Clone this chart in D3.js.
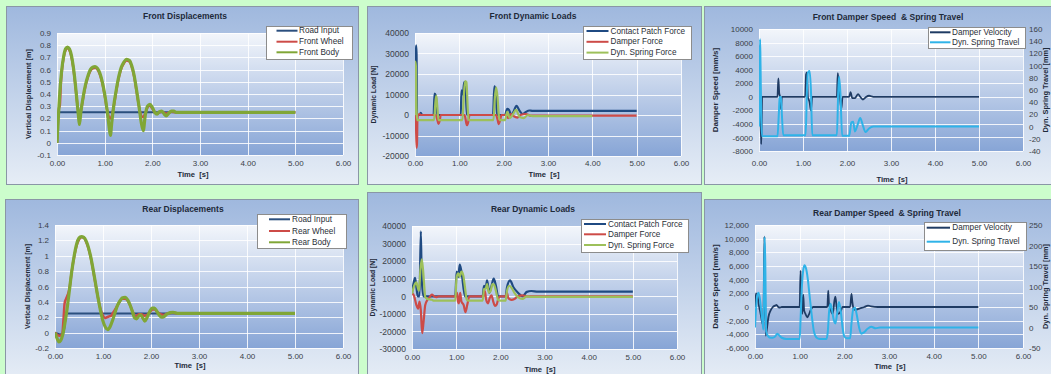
<!DOCTYPE html>
<html>
<head>
<meta charset="utf-8">
<script src="https://cdn.jsdelivr.net/npm/d3@7"></script>
<style>
html, body { margin: 0; padding: 0; background: #ccfdcc; overflow: hidden; }
svg { display: block; }
text { font-family: "Liberation Sans", Arial, sans-serif; }
</style>
</head>
<body>
<svg id="chart" width="1051" height="374"></svg>
<script>
// ---- tick labels ----
const timeTicks = [0, 1, 2, 3, 4, 5, 6];
const frontDispTicks = [-0.1, 0, 0.1, 0.2, 0.3, 0.4, 0.5, 0.6, 0.7, 0.8, 0.9];
const frontLoadTicks = [-20000, -10000, 0, 10000, 20000, 30000, 40000];
const frontSpeedTicks = [-8000, -6000, -4000, -2000, 0, 2000, 4000, 6000, 8000, 10000];
const frontTravelTicks = [-40, -20, 0, 20, 40, 60, 80, 100, 120, 140, 160];
const rearDispTicks = [-0.2, 0, 0.2, 0.4, 0.6, 0.8, 1, 1.2, 1.4];
const rearLoadTicks = [-30000, -20000, -10000, 0, 10000, 20000, 30000, 40000];
const rearSpeedTicks = [-6000, -4000, -2000, 0, 2000, 4000, 6000, 8000, 10000, 12000];
const rearTravelTicks = [-50, 0, 50, 100, 150, 200, 250];

// ---- front displacements [t, m] ----
const frontRoadInput = [[0, 0], [0.03, 0.25], [5.0, 0.25]];
const frontWheel = [[0, 0], [0.02, 0.17], [0.04, 0.28], [0.06, 0.31], [0.08, 0.48], [0.1, 0.58], [0.14, 0.7],
  [0.18, 0.76], [0.22, 0.775], [0.26, 0.76], [0.3, 0.71], [0.34, 0.62], [0.38, 0.49], [0.42, 0.34], [0.45, 0.25],
  [0.47, 0.22], [0.5, 0.26], [0.55, 0.37], [0.6, 0.47], [0.65, 0.54], [0.7, 0.59], [0.75, 0.61], [0.8, 0.615],
  [0.85, 0.6], [0.9, 0.56], [0.95, 0.49], [1.0, 0.39], [1.05, 0.27], [1.09, 0.21], [1.12, 0.2], [1.15, 0.22],
  [1.2, 0.32], [1.25, 0.44], [1.3, 0.54], [1.35, 0.61], [1.4, 0.65], [1.46, 0.675], [1.52, 0.665], [1.57, 0.62],
  [1.62, 0.54], [1.67, 0.42], [1.72, 0.3], [1.77, 0.22], [1.81, 0.21], [1.85, 0.24], [1.9, 0.29], [1.95, 0.305],
  [2.0, 0.28], [2.05, 0.25], [2.1, 0.24], [2.15, 0.25], [2.2, 0.255], [2.25, 0.245], [2.3, 0.24], [2.4, 0.255],
  [2.5, 0.25], [5.0, 0.25]];
const frontBody = [[0, 0], [0.03, 0.22], [0.06, 0.42], [0.1, 0.6], [0.14, 0.71], [0.18, 0.77], [0.22, 0.785],
  [0.26, 0.77], [0.3, 0.72], [0.34, 0.63], [0.38, 0.5], [0.42, 0.34], [0.45, 0.22], [0.47, 0.15], [0.5, 0.25],
  [0.55, 0.38], [0.6, 0.48], [0.65, 0.55], [0.7, 0.6], [0.75, 0.62], [0.8, 0.625], [0.85, 0.61], [0.9, 0.57],
  [0.95, 0.5], [1.0, 0.4], [1.05, 0.27], [1.09, 0.14], [1.12, 0.06], [1.15, 0.17], [1.2, 0.33], [1.25, 0.45],
  [1.3, 0.55], [1.35, 0.62], [1.4, 0.66], [1.46, 0.685], [1.52, 0.675], [1.57, 0.63], [1.62, 0.55], [1.67, 0.43],
  [1.72, 0.3], [1.77, 0.16], [1.81, 0.1], [1.85, 0.22], [1.9, 0.3], [1.95, 0.315], [2.0, 0.29], [2.05, 0.25],
  [2.1, 0.235], [2.15, 0.255], [2.2, 0.26], [2.25, 0.235], [2.29, 0.22], [2.34, 0.24], [2.4, 0.26], [2.45, 0.26],
  [2.5, 0.25], [2.6, 0.25], [5.0, 0.25]];

// ---- front dynamic loads [t, N] ----
const frontContactForce = [[0, 0], [0.01, 27000], [0.025, 34000], [0.035, 30000], [0.045, 0], [0.1, 0],
  [0.13, 1000], [0.16, 0], [0.42, 0], [0.44, 10500], [0.47, 9500], [0.5, 0], [1.03, 0], [1.05, 12000],
  [1.08, 10000], [1.11, 16000], [1.14, 14000], [1.17, 0], [1.76, 0], [1.79, 14000], [1.82, 12000], [1.85, 0],
  [2.03, 0], [2.08, 3000], [2.12, 2500], [2.17, 0], [2.22, 1500], [2.29, 4500], [2.36, 2000], [2.43, 500],
  [2.5, 1500], [2.58, 2200], [2.65, 2000], [5.0, 2000]];
const frontDamperForce = [[0, 0], [0.02, -3000], [0.035, -16000], [0.045, -14000], [0.055, -2000], [0.07, 0],
  [0.1, 500], [0.13, 0], [0.47, 0], [0.5, -2000], [0.53, -4300], [0.56, -2500], [0.58, 0], [1.12, 0],
  [1.14, -2000], [1.17, -5000], [1.2, -3500], [1.23, 0], [1.83, 0], [1.86, -2000], [1.89, -4500], [1.92, -2500],
  [1.95, 0], [2.05, 0], [2.1, -1500], [2.16, 500], [2.22, -500], [2.31, -1300], [2.38, 0], [2.5, 500],
  [2.6, -300], [5.0, -300]];
const frontSpringForce = [[0, 0], [0.005, 26000], [0.02, 24000], [0.035, 3000], [0.05, -2500], [0.43, -2500],
  [0.46, 6000], [0.48, 9500], [0.5, 5000], [0.53, -2500], [1.07, -2500], [1.1, 9000], [1.13, 16500],
  [1.16, 16000], [1.19, 3000], [1.21, -2500], [1.77, -2500], [1.8, 8000], [1.83, 13500], [1.86, 9000],
  [1.89, 0], [1.91, -2500], [2.03, -2500], [2.08, 1500], [2.14, -1500], [2.2, 0], [2.28, 2500], [2.36, -1000],
  [2.45, -1500], [2.55, 0], [2.65, -500], [4.0, -500]];

// ---- front damper speed [t, mm/s] and spring travel [t, mm] ----
const frontDamperVelocity = [[0, 0], [0.01, 7500], [0.02, 3000], [0.03, -2000], [0.05, -7000], [0.06, -4000],
  [0.07, 0], [0.42, 0], [0.44, 2700], [0.46, 500], [0.48, 0], [0.5, -1800], [0.52, 0], [1.05, 0], [1.07, 3300],
  [1.09, 3600], [1.11, 0], [1.15, -800], [1.18, -2000], [1.21, 0], [1.77, 0], [1.79, 3500], [1.81, 2000],
  [1.84, 0], [1.87, -1800], [1.9, 0], [2.05, 0], [2.08, 700], [2.12, -200], [2.18, -200], [2.25, 400],
  [2.3, 0], [2.36, -400], [2.42, -100], [2.5, 150], [2.6, 0], [5.0, 0]];
const frontSpringTravel = [[0, 0], [0.015, 100], [0.025, 143], [0.035, 100], [0.05, 20], [0.07, -16],
  [0.42, -16], [0.45, 20], [0.47, 48], [0.5, 49], [0.52, 20], [0.55, -14], [1.06, -14], [1.09, 60],
  [1.11, 88], [1.15, 91], [1.18, 60], [1.21, -14], [1.77, -14], [1.8, 55], [1.82, 82], [1.85, 55],
  [1.89, -15], [2.05, -15], [2.1, 7], [2.14, 8], [2.18, -8], [2.25, 5], [2.3, 14], [2.36, 2], [2.42, -9],
  [2.5, -3], [2.6, 0], [5.0, 0]];

// ---- rear displacements [t, m] ----
const rearRoadInput = [[0, 0], [0.1, -0.02], [0.17, -0.02], [0.24, 0.25], [5.0, 0.25]];
const rearWheel = [[0, 0], [0.05, -0.03], [0.1, -0.04], [0.15, -0.02], [0.18, 0.2], [0.2, 0.38], [0.23, 0.44],
  [0.27, 0.5], [0.3, 0.57], [0.35, 0.8], [0.4, 0.99], [0.45, 1.13], [0.5, 1.21], [0.55, 1.24], [0.6, 1.235],
  [0.65, 1.18], [0.7, 1.09], [0.75, 0.96], [0.8, 0.79], [0.85, 0.61], [0.9, 0.44], [0.95, 0.3], [1.0, 0.22],
  [1.04, 0.19], [1.08, 0.2], [1.12, 0.21], [1.17, 0.22], [1.22, 0.27], [1.3, 0.35], [1.35, 0.41], [1.4, 0.44],
  [1.46, 0.44], [1.52, 0.41], [1.57, 0.35], [1.62, 0.27], [1.66, 0.22], [1.7, 0.22], [1.75, 0.24], [1.8, 0.24],
  [1.86, 0.22], [1.92, 0.23], [1.98, 0.27], [2.03, 0.3], [2.08, 0.3], [2.13, 0.27], [2.2, 0.24], [2.27, 0.23],
  [2.35, 0.25], [2.45, 0.26], [2.55, 0.25], [5.0, 0.25]];
const rearBody = [[0, 0], [0.04, -0.07], [0.08, -0.12], [0.12, -0.1], [0.16, -0.03], [0.2, 0.1], [0.25, 0.3],
  [0.3, 0.55], [0.35, 0.8], [0.4, 1.0], [0.45, 1.15], [0.5, 1.23], [0.55, 1.25], [0.6, 1.24], [0.65, 1.19],
  [0.7, 1.1], [0.75, 0.97], [0.8, 0.8], [0.85, 0.62], [0.9, 0.44], [0.95, 0.28], [1.0, 0.15], [1.05, 0.07],
  [1.1, 0.04], [1.15, 0.08], [1.2, 0.16], [1.25, 0.26], [1.3, 0.35], [1.35, 0.41], [1.4, 0.45], [1.46, 0.46],
  [1.52, 0.42], [1.57, 0.35], [1.62, 0.26], [1.66, 0.19], [1.7, 0.18], [1.74, 0.21], [1.78, 0.23], [1.82, 0.2],
  [1.87, 0.15], [1.92, 0.2], [1.97, 0.27], [2.02, 0.32], [2.07, 0.32], [2.12, 0.28], [2.17, 0.23], [2.22, 0.2],
  [2.27, 0.21], [2.33, 0.24], [2.4, 0.26], [2.46, 0.265], [2.55, 0.25], [5.0, 0.25]];

// ---- rear dynamic loads [t, N] ----
const rearContactForce = [[0, 2000], [0.04, 8000], [0.07, 10500], [0.1, 5000], [0.13, 0], [0.17, 0],
  [0.2, 37000], [0.22, 10000], [0.26, 0], [0.98, 0], [1.01, 14000], [1.05, 11000], [1.08, 18000],
  [1.12, 14000], [1.2, 0], [1.6, 0], [1.63, 6000], [1.67, 5000], [1.7, 9000], [1.75, 2000], [1.8, 6000],
  [1.85, 10000], [1.9, 6000], [1.95, 0], [2.12, 0], [2.15, 5000], [2.22, 9000], [2.3, 5000], [2.4, 2000],
  [2.5, 0], [2.6, 2500], [2.7, 3000], [2.85, 2600], [5.0, 2600]];
const rearDamperForce = [[0, 2000], [0.05, 0], [0.1, -5000], [0.14, -7000], [0.17, -3000], [0.2, -8000],
  [0.23, -21000], [0.26, -15000], [0.3, -5000], [0.35, -2000], [0.4, -500], [0.45, 1000], [0.5, 0],
  [0.55, -500], [0.6, 0], [1.0, 0], [1.02, 2000], [1.04, -3000], [1.06, -4000], [1.09, 2000], [1.12, -3000],
  [1.17, -5000], [1.21, -9000], [1.25, -5000], [1.3, 0], [1.62, 0], [1.65, 3000], [1.68, -2000],
  [1.72, -4000], [1.76, -1000], [1.8, 500], [1.84, -3000], [1.88, -5500], [1.92, -4500], [1.96, -1000],
  [2.0, 0], [2.12, 0], [2.15, 2000], [2.18, -1000], [2.25, -2000], [2.32, -1500], [2.4, 0], [2.5, 500],
  [2.6, 0], [5.0, 0]];
const rearSpringForce = [[0, 1500], [0.05, 6000], [0.1, 8000], [0.13, 5000], [0.16, 3000], [0.19, 15000],
  [0.22, 21000], [0.25, 15000], [0.28, 5000], [0.3, -500], [0.35, -1500], [0.45, -2000], [0.5, -2500],
  [0.98, -2500], [1.01, 11000], [1.05, 13000], [1.08, 11000], [1.12, 14000], [1.16, 12000], [1.2, 5000],
  [1.24, -2000], [1.28, -2500], [1.6, -2500], [1.63, 4000], [1.67, 4500], [1.7, 7000], [1.74, 2000],
  [1.78, 3000], [1.82, 7000], [1.86, 6500], [1.9, 3000], [1.95, -2000], [2.0, -2500], [2.12, -2500],
  [2.15, 3000], [2.2, 6000], [2.25, 5000], [2.32, 2000], [2.4, -500], [2.5, -1500], [2.6, 0], [2.7, -300],
  [5.0, -300]];

// ---- rear damper speed [t, mm/s] and spring travel [t, mm] ----
const rearDamperVelocity = [[0, 0], [0.02, 2000], [0.05, 1800], [0.08, 500], [0.11, -500], [0.14, -1500],
  [0.17, -2500], [0.19, -1000], [0.21, 10300], [0.225, 3000], [0.24, -4200], [0.27, -3000], [0.3, -1500],
  [0.35, -500], [0.4, 0], [0.45, 200], [0.48, 300], [0.52, 0], [0.56, -100], [0.6, 0], [1.0, 0],
  [1.02, 5300], [1.04, 1000], [1.06, -1000], [1.08, 1800], [1.1, -500], [1.13, -1000], [1.17, -1500],
  [1.2, -1200], [1.25, -400], [1.3, 0], [1.62, 0], [1.64, 2400], [1.66, 0], [1.68, 400], [1.7, -500],
  [1.74, -1000], [1.78, 1000], [1.8, 1500], [1.83, -200], [1.87, -1000], [1.92, -600], [1.96, 0], [2.13, 0],
  [2.16, 1900], [2.18, 700], [2.21, -300], [2.25, -400], [2.35, -200], [2.45, 0], [2.53, 200], [2.6, 100],
  [2.75, 0], [5.0, 0]];
const rearSpringTravel = [[0, 0], [0.02, 40], [0.05, 78], [0.08, 85], [0.11, 70], [0.14, 40], [0.17, 10],
  [0.19, -5], [0.215, 220], [0.23, 160], [0.25, -10], [0.3, -22], [0.35, -25], [0.4, -25], [0.45, -22],
  [0.5, -15], [0.55, -20], [0.6, -25], [0.7, -28], [1.0, -28], [1.02, 20], [1.05, 100], [1.08, 140],
  [1.11, 152], [1.14, 145], [1.18, 120], [1.22, 80], [1.27, 30], [1.32, -10], [1.38, -25], [1.45, -28],
  [1.6, -28], [1.63, -10], [1.66, 40], [1.69, 58], [1.72, 45], [1.76, 20], [1.8, 10], [1.84, 35], [1.88, 62],
  [1.92, 40], [1.96, 0], [2.0, -22], [2.05, -26], [2.13, -26], [2.16, 10], [2.2, 45], [2.24, 48], [2.28, 30],
  [2.33, 0], [2.38, -15], [2.44, -12], [2.52, -3], [2.6, 2], [2.7, -2], [2.8, 0], [5.0, 0]];

const COLORS = {
    road: '#2b4f7e',
    contact: '#1f4a82',
    velocity: '#1f3b63',
    red: '#cd4b47',
    green: '#80a636',
    spring: '#9dc05a',
    travel: '#2fb3e8'
};

const svg = d3.select('#chart');
const defs = svg.append('defs');

const outerGrad = defs.append('linearGradient').attr('id', 'outerGrad')
    .attr('x1', 0).attr('y1', 0).attr('x2', 0).attr('y2', 1);
outerGrad.append('stop').attr('offset', 0).attr('stop-color', '#9fb8de');
outerGrad.append('stop').attr('offset', 1).attr('stop-color', '#e6edf6');

const plotGrad = defs.append('linearGradient').attr('id', 'plotGrad')
    .attr('x1', 0).attr('y1', 0).attr('x2', 0).attr('y2', 1);
plotGrad.append('stop').attr('offset', 0).attr('stop-color', '#f3f6fb');
plotGrad.append('stop').attr('offset', 1).attr('stop-color', '#87a5d6');

const plainFmt = d => String(d);
const commaFmt = d => (d < 0 ? '-' : '') + d3.format(',')(Math.abs(d));

const panels = [
    {
        id: 'p1', box: [6.5, 6.5, 358.5, 184.5], plot: [57, 33, 343, 155],
        title: 'Front Displacements', titleX: 185, titleY: 16,
        yTitle: 'Vertical Displacement [m]', yTitleX: 28, yTitleSize: 7.4,
        xTitleX: 193, xTitleY: 174, xPad: 5, yTickSize: 8,
        yDomain: [-0.1, 0.9], yTicks: frontDispTicks, yFmt: plainFmt,
        legend: {x: 266, y: 26, w: 86, h: 33, l0: 10.5, l1: 31.5, tx: 33, rows: [4.7, 15.7, 26.3]},
        series: [
            {name: 'Road Input', data: frontRoadInput, color: COLORS.road, width: 2},
            {name: 'Front Wheel', data: frontWheel, color: COLORS.red, width: 2.5},
            {name: 'Front Body', data: frontBody, color: COLORS.green, width: 3.2}
        ]
    },
    {
        id: 'p2', box: [367.5, 6.5, 701.5, 184.5], plot: [415, 33, 681, 156],
        title: 'Front Dynamic Loads', titleX: 533, titleY: 16,
        yTitle: 'Dynamic Load [N]', yTitleX: 373, yTitleSize: 6.8,
        xTitleX: 544, xTitleY: 174, xPad: 4.5, yTickSize: 8.5,
        yDomain: [-20000, 40000], yTicks: frontLoadTicks, yFmt: plainFmt,
        legend: {x: 583, y: 26, w: 108, h: 33, l0: 3.5, l1: 25.5, tx: 27.5, rows: [5, 15.8, 26.6]},
        series: [
            {name: 'Contact Patch Force', data: frontContactForce, color: COLORS.contact, width: 2.2},
            {name: 'Damper Force', data: frontDamperForce, color: COLORS.red, width: 2.2},
            {name: 'Dyn. Spring Force', data: frontSpringForce, color: COLORS.spring, width: 2.2}
        ]
    },
    {
        id: 'p3', box: [704.5, 6.5, 1060, 184.5], plot: [759, 29, 1023, 151],
        title: 'Front Damper Speed  & Spring Travel', titleX: 888, titleY: 17,
        yTitle: 'Damper Speed [mm/s]', yTitleX: 715, yTitleSize: 8,
        rTitle: 'Dyn. Spring Travel [mm]', rTitleX: 1045.5,
        xTitleX: 892, xTitleY: 179, xPad: 9.5, yTickSize: 8,
        yDomain: [-8000, 10000], yTicks: frontSpeedTicks, yFmt: plainFmt,
        rDomain: [-40, 160], rTicks: frontTravelTicks,
        legend: {x: 928, y: 27, w: 97, h: 21, l0: 2, l1: 22.5, tx: 24, rows: [5.3, 15.3]},
        series: [
            {name: 'Damper Velocity', data: frontDamperVelocity, color: COLORS.velocity, width: 1.8},
            {name: 'Dyn. Spring Travel', data: frontSpringTravel, color: COLORS.travel, width: 2, right: true}
        ]
    },
    {
        id: 'p4', box: [5.5, 199.5, 358.5, 380], plot: [55, 225, 343, 348],
        title: 'Rear Displacements', titleX: 183, titleY: 209,
        yTitle: 'Vertical Displacement [m]', yTitleX: 27, yTitleSize: 7,
        xTitleX: 190, xTitleY: 365, xPad: 5, yTickSize: 8,
        yDomain: [-0.2, 1.4], yTicks: rearDispTicks, yFmt: plainFmt,
        legend: {x: 257, y: 214, w: 89, h: 34, l0: 12, l1: 33, tx: 35, rows: [5.3, 17, 28.3]},
        series: [
            {name: 'Road Input', data: rearRoadInput, color: COLORS.road, width: 2},
            {name: 'Rear Wheel', data: rearWheel, color: COLORS.red, width: 2.5},
            {name: 'Rear Body', data: rearBody, color: COLORS.green, width: 3.2}
        ]
    },
    {
        id: 'p5', box: [367.5, 192.5, 701.5, 380], plot: [412, 226, 677, 349],
        title: 'Rear Dynamic Loads', titleX: 533, titleY: 209,
        yTitle: 'Dynamic Load [N]', yTitleX: 372, yTitleSize: 6.8,
        xTitleX: 540, xTitleY: 369, xPad: 5, yTickSize: 8.5,
        yDomain: [-30000, 40000], yTicks: rearLoadTicks, yFmt: plainFmt,
        legend: {x: 581, y: 219, w: 107, h: 33, l0: 3, l1: 25, tx: 27, rows: [5, 15.3, 26]},
        series: [
            {name: 'Contact Patch Force', data: rearContactForce, color: COLORS.contact, width: 2.2},
            {name: 'Damper Force', data: rearDamperForce, color: COLORS.red, width: 2.2},
            {name: 'Dyn. Spring Force', data: rearSpringForce, color: COLORS.spring, width: 2.2}
        ]
    },
    {
        id: 'p6', box: [704.5, 199.5, 1060, 380], plot: [755, 225, 1023, 348],
        title: 'Rear Damper Speed  & Spring Travel', titleX: 887, titleY: 213,
        yTitle: 'Damper Speed [mm/s]', yTitleX: 715, yTitleSize: 8,
        rTitle: 'Dyn. Spring Travel [mm]', rTitleX: 1045.5,
        xTitleX: 890, xTitleY: 366, xPad: 5, yTickSize: 8,
        yDomain: [-6000, 12000], yTicks: rearSpeedTicks, yFmt: commaFmt,
        rDomain: [-50, 250], rTicks: rearTravelTicks,
        legend: {x: 924, y: 222, w: 102, h: 28, l0: 2.7, l1: 26, tx: 28.3, rows: [5.7, 19.7]},
        series: [
            {name: 'Damper Velocity', data: rearDamperVelocity, color: COLORS.velocity, width: 1.8},
            {name: 'Dyn. Spring Travel', data: rearSpringTravel, color: COLORS.travel, width: 2, right: true}
        ]
    }
];

function styleAxis(g, size) {
    g.select('.domain').remove();
    g.selectAll('.tick line').remove();
    g.selectAll('.tick text')
        .attr('fill', '#3a3f48')
        .style('font-size', size + 'px')
        .style('font-family', '"Liberation Sans", Arial, sans-serif');
}

function drawPanel(p) {
    const [bx0, by0, bx1, by1] = p.box;
    const [px0, py0, px1, py1] = p.plot;
    const g = svg.append('g').attr('class', 'panel ' + p.id);

    g.append('rect')      // chart area
        .attr('x', bx0).attr('y', by0)
        .attr('width', bx1 - bx0).attr('height', by1 - by0)
        .attr('fill', 'url(#outerGrad)')
        .attr('stroke', '#8a96a6')
        .attr('stroke-width', 1);

    const x = d3.scaleLinear().domain([0, 6]).range([px0, px1]);
    const y = d3.scaleLinear().domain(p.yDomain).range([py1, py0]);
    const yR = p.rDomain ? d3.scaleLinear().domain(p.rDomain).range([py1, py0]) : null;

    g.append('rect')      // plot area
        .attr('x', px0).attr('y', py0)
        .attr('width', px1 - px0).attr('height', py1 - py0)
        .attr('fill', 'url(#plotGrad)');

    // gridlines
    g.append('g').selectAll('line').data(p.yTicks).join('line')
        .attr('x1', px0).attr('x2', px1)
        .attr('y1', d => Math.round(y(d)) + 0.5).attr('y2', d => Math.round(y(d)) + 0.5)
        .attr('stroke', '#ffffff').attr('stroke-opacity', 0.85).attr('stroke-width', 1);
    g.append('g').selectAll('line').data(timeTicks).join('line')
        .attr('y1', py0).attr('y2', py1)
        .attr('x1', d => Math.round(x(d)) + 0.5).attr('x2', d => Math.round(x(d)) + 0.5)
        .attr('stroke', '#ffffff').attr('stroke-opacity', 0.85).attr('stroke-width', 1);

    // axes
    g.append('g')
        .attr('transform', `translate(${px0},0)`)
        .call(d3.axisLeft(y).tickValues(p.yTicks).tickFormat(p.yFmt).tickSize(0).tickPadding(6))
        .call(ax => styleAxis(ax, p.yTickSize));
    g.append('g')
        .attr('transform', `translate(0,${py1})`)
        .call(d3.axisBottom(x).tickValues(timeTicks).tickFormat(d => d.toFixed(2)).tickSize(0).tickPadding(p.xPad))
        .call(ax => styleAxis(ax, 8));
    if (yR) {
        g.append('g')
            .attr('transform', `translate(${px1},0)`)
            .call(d3.axisRight(yR).tickValues(p.rTicks).tickFormat(plainFmt).tickSize(0).tickPadding(6))
            .call(ax => styleAxis(ax, 8));
    }

    // series
    const clipId = 'clip-' + p.id;
    defs.append('clipPath').attr('id', clipId)
        .append('rect').attr('x', px0).attr('y', py0 - 2)
        .attr('width', px1 - px0).attr('height', py1 - py0 + 4);
    const lines = g.append('g').attr('clip-path', `url(#${clipId})`);
    p.series.forEach(s => {
        const ys = s.right ? yR : y;
        const line = d3.line()
            .x(d => x(d[0]))
            .y(d => ys(d[1]))
            .curve(d3.curveMonotoneX);
        lines.append('path')
            .datum(s.data)
            .attr('d', line)
            .attr('fill', 'none')
            .attr('stroke', s.color)
            .attr('stroke-width', s.width)
            .attr('stroke-linejoin', 'round');
    });

    // titles
    g.append('text')
        .attr('x', p.titleX).attr('y', p.titleY)
        .attr('text-anchor', 'middle').attr('dominant-baseline', 'central')
        .attr('fill', '#1e2a3a').style('font-size', '8.5px').style('font-weight', 'bold')
        .style('white-space', 'pre')
        .text(p.title);
    g.append('text')
        .attr('x', p.xTitleX).attr('y', p.xTitleY)
        .attr('text-anchor', 'middle').attr('dominant-baseline', 'central')
        .attr('fill', '#1e2a3a').style('font-size', '7.6px').style('font-weight', 'bold')
        .style('white-space', 'pre')
        .text('Time  [s]');
    const cy = (py0 + py1) / 2;
    g.append('text')
        .attr('transform', `translate(${p.yTitleX},${cy}) rotate(-90)`)
        .attr('text-anchor', 'middle').attr('dominant-baseline', 'central')
        .attr('fill', '#1e2a3a').style('font-size', p.yTitleSize + 'px').style('font-weight', 'bold')
        .text(p.yTitle);
    if (p.rTitle) {
        g.append('text')
            .attr('transform', `translate(${p.rTitleX},${cy}) rotate(-90)`)
            .attr('text-anchor', 'middle').attr('dominant-baseline', 'central')
            .attr('fill', '#1e2a3a').style('font-size', '7.4px').style('font-weight', 'bold')
            .text(p.rTitle);
    }

    // legend
    const L = p.legend;
    const lg = g.append('g').attr('transform', `translate(${L.x},${L.y})`);
    lg.append('rect')
        .attr('x', 0.5).attr('y', 0.5).attr('width', L.w).attr('height', L.h)
        .attr('fill', '#ffffff').attr('stroke', '#8c8c8c').attr('stroke-width', 1);
    p.series.forEach((s, i) => {
        lg.append('line')
            .attr('x1', L.l0).attr('x2', L.l1)
            .attr('y1', L.rows[i]).attr('y2', L.rows[i])
            .attr('stroke', s.color).attr('stroke-width', 2);
        lg.append('text')
            .attr('x', L.tx).attr('y', L.rows[i])
            .attr('dominant-baseline', 'central')
            .attr('fill', '#2a2f38').style('font-size', '8.2px')
            .text(s.name);
    });
}

panels.forEach(drawPanel);
</script>
</body>
</html>
